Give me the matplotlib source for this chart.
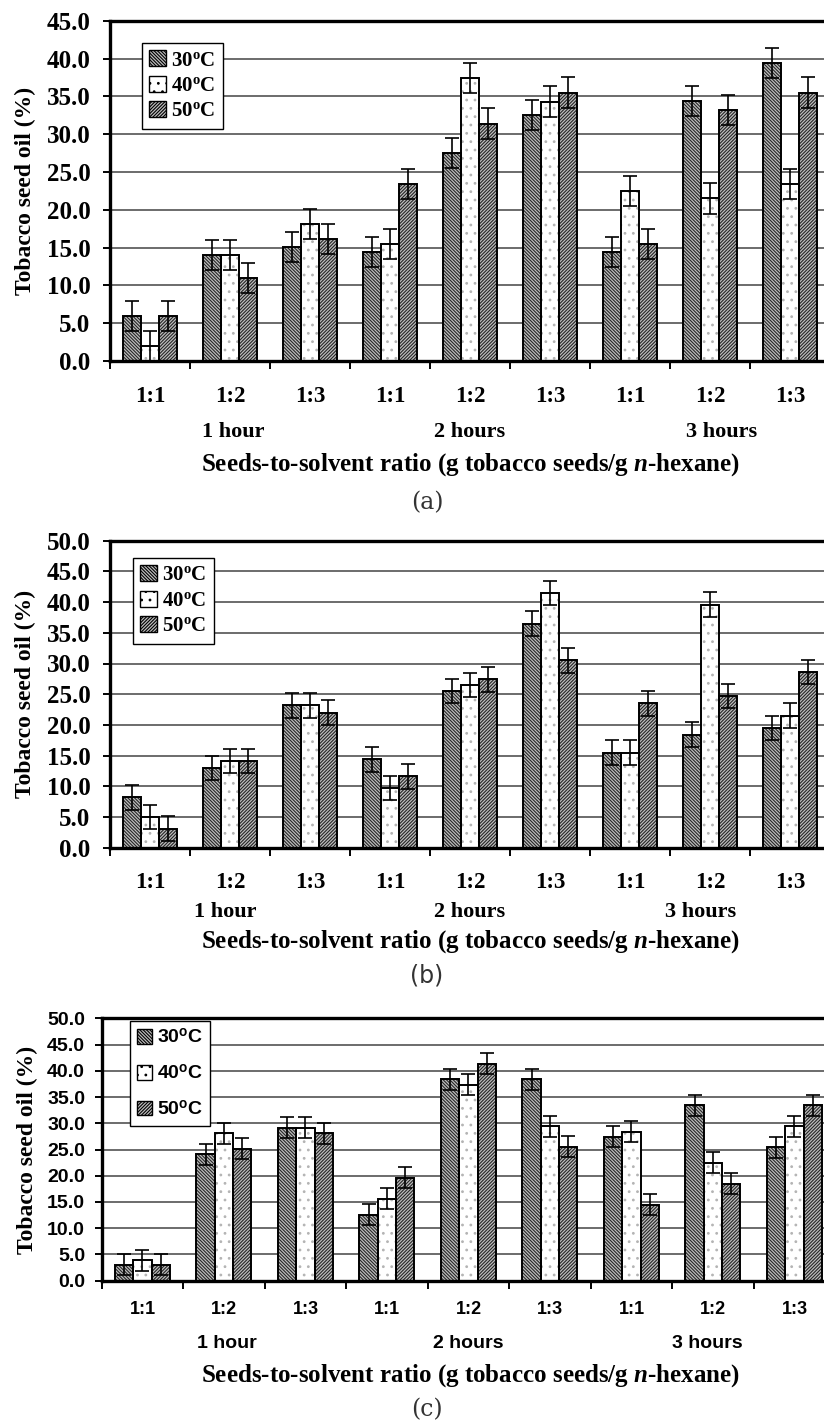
import matplotlib
matplotlib.use("Agg")
import matplotlib.pyplot as plt
import matplotlib.transforms as mtransforms
from matplotlib.patches import Patch
import numpy as np

# values (%)
ratios = ["1:1", "1:2", "1:3", "1:1", "1:2", "1:3", "1:1", "1:2", "1:3"]
hours = ["1 hour", "2 hours", "3 hours"]
temps = ["30", "40", "50"]

a_30 = [6.0, 14.0, 15.1, 14.4, 27.5, 32.5, 14.4, 34.4, 39.4]
a_40 = [2.0, 14.0, 18.1, 15.5, 37.4, 34.3, 22.5, 21.5, 23.4]
a_50 = [6.0, 11.0, 16.1, 23.4, 31.4, 35.5, 15.5, 33.2, 35.5]

b_30 = [8.2, 13.0, 23.2, 14.4, 25.5, 36.5, 15.5, 18.4, 19.5]
b_40 = [5.0, 14.1, 23.2, 9.7, 26.5, 41.5, 15.5, 39.6, 21.5]
b_50 = [3.1, 14.1, 22.0, 11.6, 27.4, 30.5, 23.5, 24.7, 28.6]

c_30 = [3.0, 24.1, 29.1, 12.6, 38.4, 38.4, 27.4, 33.4, 25.4]
c_40 = [3.9, 28.1, 29.1, 15.6, 37.3, 29.4, 28.4, 22.5, 29.4]
c_50 = [3.0, 25.1, 28.1, 19.6, 41.3, 25.5, 14.5, 18.5, 33.4]

err = 2.0

W, H = 824, 1422
fig = plt.figure(figsize=(W / 100, H / 100), dpi=100)

SERIF = "Liberation Serif"
SANS = "Liberation Sans"

styles = [
    dict(face="#bdbdbd", hatch="\\" * 10, hcol="#262626"),
    dict(face="white", hatch="..", hcol="#b4b4b4"),
    dict(face="#bdbdbd", hatch="/" * 10, hcol="#262626"),
]
plt.rcParams["hatch.linewidth"] = 0.8
plt.rcParams["mathtext.fontset"] = "custom"
plt.rcParams["mathtext.bfit"] = "Liberation Serif:bold:italic"
plt.rcParams["mathtext.it"] = "Liberation Serif:italic"


def fy(px):
    return 1 - px / H


def panel(box, series, ymax, tickfont, tickfs, ytickfs, ypad, hourfs, ylab_x, tick_y,
          hour_y, hour_x, xlab_y, cap_y, cap, capfont, leg_xy, leg_space):
    left, top, width, bottom = box
    ax = fig.add_axes([left / W, fy(bottom), width / W, (bottom - top) / H])
    x = np.arange(len(ratios))
    w = 0.225
    for k, vals in enumerate(series):
        st = styles[k]
        pos = x + (k - 1) * w
        ax.bar(pos, vals, w, color=st["face"], hatch=st["hatch"],
               edgecolor=st["hcol"], linewidth=0, zorder=2)
        ax.bar(pos, vals, w, fill=False, edgecolor="black", linewidth=1.4, zorder=3)
        ax.errorbar(pos, vals, yerr=err, fmt="none", ecolor="black",
                    elinewidth=1.2, capsize=5, capthick=1.2, zorder=4)
    ax.set_xlim(-0.5, len(ratios) - 0.5)
    ax.set_ylim(0, ymax)
    yt = np.arange(0, ymax + 0.1, 5)
    ax.set_yticks(yt)
    ax.set_yticklabels(["%.1f" % v for v in yt],
                       fontfamily=tickfont, fontweight="bold", fontsize=ytickfs)
    ax.set_xticks(np.arange(-0.5, len(ratios)), [])
    ax.tick_params(axis="x", length=6, width=1.4, direction="out")
    ax.tick_params(axis="y", length=5, width=1.4, direction="out", pad=ypad)
    ax.yaxis.grid(True, color="#444444", linewidth=1.1)
    ax.set_axisbelow(True)
    for s in ax.spines.values():
        s.set_linewidth(2.4)

    tr = mtransforms.blended_transform_factory(ax.transData, fig.transFigure)
    for i, r in enumerate(ratios):
        ax.text(i, fy(tick_y), r, transform=tr, ha="center", va="center",
                fontfamily=tickfont, fontweight="bold", fontsize=tickfs)
    for hx, hname in zip(hour_x, hours):
        ax.text(hx, fy(hour_y), hname, transform=tr, ha="center", va="center",
                fontfamily=tickfont, fontweight="bold", fontsize=hourfs)

    fig.text(ylab_x / W, fy((top + bottom) / 2), "Tobacco seed oil (%)",
             rotation=90, ha="center", va="center", fontfamily=SERIF,
             fontweight="bold", fontsize=17)
    fig.text(471 / W, fy(xlab_y),
             "Seeds-to-solvent ratio (g tobacco seeds/g $\\mathbfit{n}$-hexane)",
             ha="center", va="center", fontfamily=SERIF, fontweight="bold", fontsize=18)
    fig.text(427 / W, fy(cap_y), cap, ha="center", va="center",
             fontfamily=capfont, fontsize=17, color="#333333")

    handles = [Patch(facecolor=st["face"], hatch=st["hatch"], edgecolor="black",
                     linewidth=1.0) for st in styles]
    labels = [t + "$^{\\mathregular{o}}$C" for t in temps]
    leg = ax.legend(handles, labels, loc="upper left",
                    bbox_to_anchor=(leg_xy[0] / W, fy(leg_xy[1])),
                    bbox_transform=fig.transFigure, borderaxespad=0,
                    fancybox=False, framealpha=1, edgecolor="black",
                    handlelength=0.8, handleheight=0.8, handletextpad=0.25,
                    labelspacing=leg_space, borderpad=0.35,
                    prop=dict(family=tickfont, weight="bold",
                              size=15 if tickfont == SERIF else 14))
    leg.get_frame().set_linewidth(1.0)
    leg.set_zorder(10)
    return ax


panel((110, 20.7, 720, 361), [a_30, a_40, a_50], 45, SERIF, 16.5, 18, 9, 16,
      25, 396, 432, [1.04, 4.0, 7.15], 465, 503, "(a)", "DejaVu Serif", (142, 43), 0.25)
panel((110, 540.7, 720, 847.7), [b_30, b_40, b_50], 50, SERIF, 16.5, 18, 9, 16,
      25, 883, 912, [0.94, 4.0, 6.88], 942, 975, "(b)", "DejaVu Sans", (133, 558), 0.25)
panel((101.7, 1018.3, 733.5, 1280.7), [c_30, c_40, c_50], 50, SANS, 13, 14, 7, 14,
      27, 1309, 1343, [1.04, 4.0, 6.93], 1376, 1410, "(c)", "DejaVu Serif", (130, 1021), 0.85)

fig.savefig("out.png", dpi=100)
